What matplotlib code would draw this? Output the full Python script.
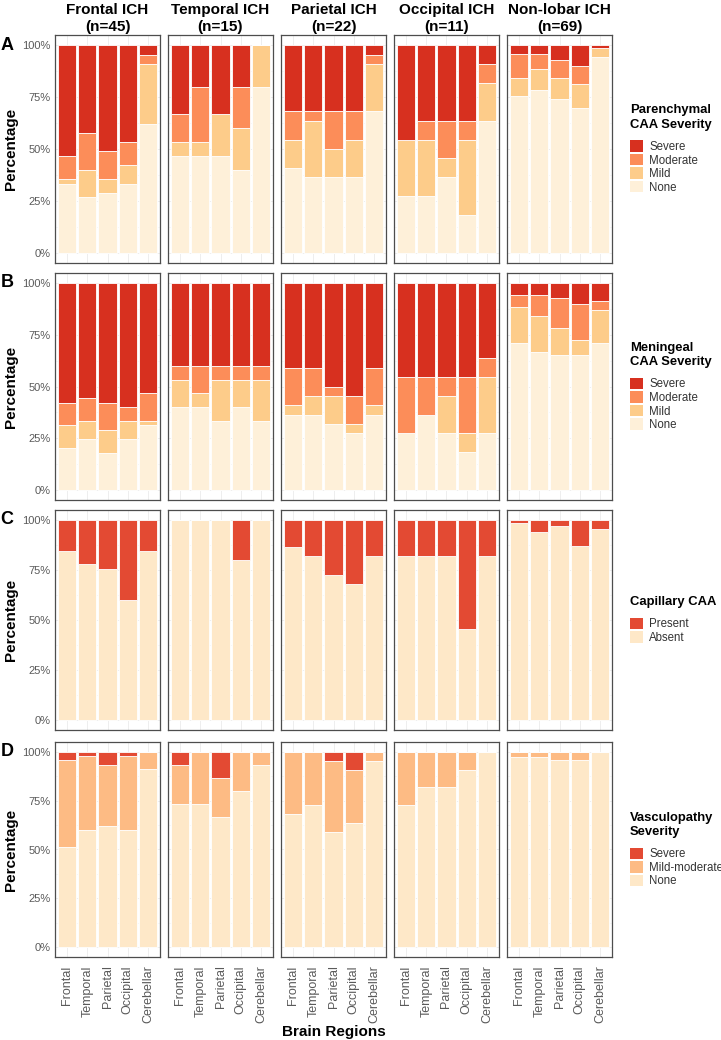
import numpy as np
import matplotlib.pyplot as plt
from matplotlib.patches import Patch

plt.rcParams['font.family'] = ['Liberation Sans', 'DejaVu Sans']

regions = ['Frontal', 'Temporal', 'Parietal', 'Occipital', 'Cerebellar']
groups = ['Frontal ICH', 'Temporal ICH', 'Parietal ICH', 'Occipital ICH', 'Non-lobar ICH']
group_n = [45, 15, 22, 11, 69]

# counts per group (rows) and region (columns)
# A: parenchymal CAA severity
par_none = [[15, 12, 13, 15, 28], [7, 7, 7, 6, 12], [9, 8, 8, 8, 15], [3, 3, 4, 2, 7], [52, 54, 51, 48, 65]]
par_mild = [[1, 6, 3, 4, 13], [1, 1, 3, 3, 3], [3, 6, 3, 4, 5], [3, 3, 1, 4, 2], [6, 7, 7, 8, 3]]
par_moderate = [[5, 8, 6, 5, 2], [2, 4, 0, 3, 0], [3, 1, 4, 3, 1], [0, 1, 2, 1, 1], [8, 5, 6, 6, 0]]
par_severe = [[24, 19, 23, 21, 2], [5, 3, 5, 3, 0], [7, 7, 7, 7, 1], [5, 4, 4, 4, 1], [3, 3, 5, 7, 1]]

# B: meningeal CAA severity
men_none = [[9, 11, 8, 11, 14], [6, 6, 5, 6, 5], [8, 8, 7, 6, 8], [3, 4, 3, 2, 3], [49, 46, 45, 45, 49]]
men_mild = [[5, 4, 5, 4, 1], [2, 1, 3, 2, 3], [1, 2, 3, 1, 1], [0, 0, 2, 1, 3], [12, 12, 9, 5, 11]]
men_moderate = [[5, 5, 6, 3, 6], [1, 2, 1, 1, 1], [4, 3, 1, 3, 4], [3, 2, 1, 3, 1], [4, 7, 10, 12, 3]]
men_severe = [[26, 25, 26, 27, 24], [6, 6, 6, 6, 6], [9, 9, 11, 12, 9], [5, 5, 5, 5, 4], [4, 4, 5, 7, 6]]

# C: capillary CAA
cap_present = [[7, 10, 11, 18, 7], [0, 0, 0, 3, 0], [3, 4, 6, 7, 4], [2, 2, 2, 6, 2], [1, 4, 2, 9, 3]]

# D: vasculopathy severity
vas_none = [[23, 27, 28, 27, 41], [11, 11, 10, 12, 14], [15, 16, 13, 14, 21], [8, 9, 9, 10, 11], [67, 67, 66, 66, 69]]
vas_mildmod = [[20, 17, 14, 17, 4], [3, 4, 3, 3, 1], [7, 6, 8, 6, 1], [3, 2, 2, 1, 0], [2, 2, 3, 3, 0]]
vas_severe = [[2, 1, 3, 1, 0], [1, 0, 2, 0, 0], [0, 0, 1, 2, 0], [0, 0, 0, 0, 0], [0, 0, 0, 0, 0]]

cap_absent = [[n - p for p in row] for n, row in zip(group_n, cap_present)]

panels = [
    ('A', 'Parenchymal\nCAA Severity',
     [par_none, par_mild, par_moderate, par_severe],
     ['None', 'Mild', 'Moderate', 'Severe'],
     ['#FEF0D9', '#FDCC8A', '#FC8D59', '#D7301F']),
    ('B', 'Meningeal\nCAA Severity',
     [men_none, men_mild, men_moderate, men_severe],
     ['None', 'Mild', 'Moderate', 'Severe'],
     ['#FEF0D9', '#FDCC8A', '#FC8D59', '#D7301F']),
    ('C', 'Capillary CAA',
     [cap_absent, cap_present],
     ['Absent', 'Present'],
     ['#FEE8C8', '#E34A33']),
    ('D', 'Vasculopathy\nSeverity',
     [vas_none, vas_mildmod, vas_severe],
     ['None', 'Mild-moderate', 'Severe'],
     ['#FEE8C8', '#FDBB84', '#E34A33']),
]

W, H = 721, 1040
fig = plt.figure(figsize=(W / 100, H / 100), dpi=100)

col_left = [55, 168, 281, 394, 507]
col_w = 105
rows = [(35, 263), (273, 500), (510, 730), (742, 957)]


def px_axes(x0, y0, x1, y1):
    return fig.add_axes([x0 / W, 1 - y1 / H, (x1 - x0) / W, (y1 - y0) / H])


x = np.arange(1, len(regions) + 1)
for r, (letter, leg_title, series, labels, colors) in enumerate(panels):
    y0, y1 = rows[r]
    for g in range(len(groups)):
        ax = px_axes(col_left[g], y0, col_left[g] + col_w, y1)
        n = group_n[g]
        bottom = np.zeros(len(regions))
        for counts, col in zip(series, colors):
            pct = np.array(counts[g]) / n * 100
            ax.bar(x, pct, width=0.9, bottom=bottom, color=col,
                   edgecolor='white', linewidth=0.6, zorder=2)
            bottom += pct
        ax.set_xlim(0.4, 5.6)
        ax.set_ylim(-5, 105)
        ax.set_yticks([0, 25, 50, 75, 100])
        ax.set_yticks([12.5, 37.5, 62.5, 87.5], minor=True)
        ax.set_xticks(x)
        ax.set_axisbelow(True)
        ax.grid(which='major', color='#EBEBEB', linewidth=0.6)
        ax.grid(which='minor', axis='y', color='#F2F2F2', linewidth=0.4)
        ax.tick_params(which='both', length=0)
        for s in ax.spines.values():
            s.set_color('#4D4D4D')
            s.set_linewidth(0.9)
        if g == 0:
            ax.set_yticklabels(['0%', '25%', '50%', '75%', '100%'],
                               fontsize=8, color='#5A5A5A')
            ax.tick_params(axis='y', pad=3)
        else:
            ax.set_yticklabels([])
        if r == len(panels) - 1:
            ax.set_xticklabels(regions, rotation=90, fontsize=9, color='#5A5A5A')
            ax.tick_params(axis='x', pad=6)
        else:
            ax.set_xticklabels([])
        if r == 0:
            ax.set_title('%s\n(n=%d)' % (groups[g], n), fontsize=11,
                         fontweight='bold', pad=3, linespacing=1.3)

    yc = (y0 + y1) / 2
    fig.text(7 / W, 1 - (y0 + 10) / H, letter, fontsize=13, fontweight='bold',
             ha='center', va='center')
    fig.text(11 / W, 1 - yc / H, 'Percentage', fontsize=11, fontweight='bold',
             rotation=90, ha='center', va='center')

    handles = [Patch(facecolor=c, edgecolor='none') for c in colors][::-1]
    leg = fig.legend(handles, labels[::-1], loc='center left',
                     bbox_to_anchor=(630 / W, 1 - yc / H), frameon=False,
                     title=leg_title, fontsize=8.3, handlelength=1.1,
                     handleheight=1.15, labelspacing=0.08, handletextpad=0.55,
                     borderaxespad=0, borderpad=0)
    leg.get_title().set_fontweight('bold')
    leg.get_title().set_fontsize(9.4)
    leg.get_title().set_linespacing(1.25)
    leg._legend_box.align = 'left'
    leg._legend_box.sep = 7
    for t in leg.get_texts():
        t.set_color('#333333')

fig.text((col_left[0] + col_left[-1] + col_w) / 2 / W, 1 - 1032 / H,
         'Brain Regions', fontsize=11, fontweight='bold', ha='center', va='center')

fig.savefig('out.png', dpi=100)
